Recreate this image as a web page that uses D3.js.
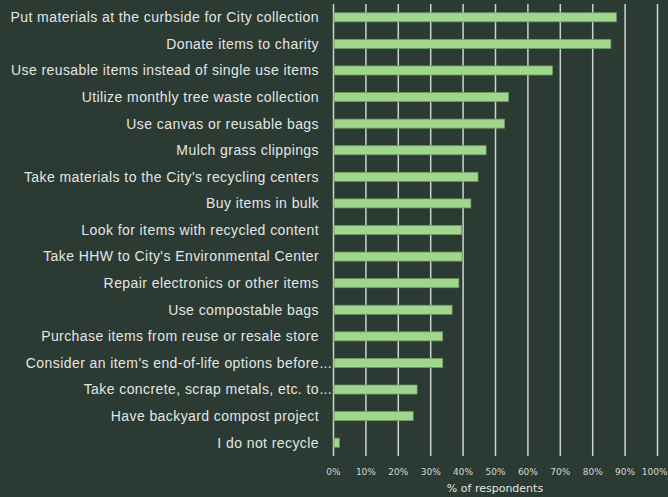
<!DOCTYPE html>
<html>
<head>
<meta charset="utf-8">
<script src="https://cdn.jsdelivr.net/npm/d3@7"></script>
<style>
  html, body { margin: 0; padding: 0; background: #2b3a33; }
  svg { display: block; }
</style>
</head>
<body>
<svg id="chart" width="668" height="497"></svg>
<script>
const categories = [
  "Put materials at the curbside for City collection",
  "Donate items to charity",
  "Use reusable items instead of single use items",
  "Utilize monthly tree waste collection",
  "Use canvas or reusable bags",
  "Mulch grass clippings",
  "Take materials to the City's recycling centers",
  "Buy items in bulk",
  "Look for items with recycled content",
  "Take HHW to City's Environmental Center",
  "Repair electronics or other items",
  "Use compostable bags",
  "Purchase items from reuse or resale store",
  "Consider an item's end-of-life options before...",
  "Take concrete, scrap metals, etc. to...",
  "Have backyard compost project",
  "I do not recycle"
];
const values = [87.3, 85.6, 67.6, 54.0, 52.8, 47.1, 44.6, 42.4, 39.6, 39.7, 38.7, 36.6, 33.7, 33.7, 25.8, 24.6, 1.8];
const tickValues = [0, 10, 20, 30, 40, 50, 60, 70, 80, 90, 100];
const axisTitle = "% of respondents";

const svg = d3.select("#chart");
const x = d3.scaleLinear().domain([0, 100]).range([333.5, 657.5]);
const y = d3.scaleBand().domain(categories).range([4, 456]).paddingInner(0.66).paddingOuter(0.33);

// gridlines
svg.append("g").selectAll("line").data(tickValues).join("line")
  .attr("x1", d => x(d)).attr("x2", d => x(d))
  .attr("y1", 4).attr("y2", 456)
  .attr("stroke", "#cfd2cf").attr("stroke-width", 1.5);

// bars
svg.append("g").selectAll("rect").data(categories).join("rect")
  .attr("x", x(0) + 0.5)
  .attr("y", d => y(d))
  .attr("width", (d, i) => x(values[i]) - x(0) - 0.5)
  .attr("height", y.bandwidth())
  .attr("fill", "#a1d78d")
  .attr("stroke", "#6f9d62")
  .attr("stroke-width", 0.8);

const labelFont = "Liberation Sans, Arial, sans-serif";

// category labels
svg.append("g").selectAll("text").data(categories).join("text")
  .attr("x", 319)
  .attr("y", d => y(d) + y.bandwidth() / 2)
  .attr("dy", "0.35em")
  .attr("text-anchor", "end")
  .attr("fill", "#e4e6e4")
  .attr("font-family", labelFont)
  .attr("font-size", 14)
  .attr("letter-spacing", 0.42)
  .text(d => d.endsWith("...") ? d.slice(0, -3) : d);

svg.append("g").selectAll("text").data(categories.filter(d => d.endsWith("..."))).join("text")
  .attr("x", 319.5)
  .attr("y", d => y(d) + y.bandwidth() / 2)
  .attr("dy", "0.35em")
  .attr("fill", "#e4e6e4")
  .attr("font-family", labelFont)
  .attr("font-size", 14)
  .attr("letter-spacing", 0.2)
  .text("...");

// x tick labels
svg.append("g").selectAll("text").data(tickValues).join("text")
  .attr("x", (d, i) => i === tickValues.length - 1 ? 667.5 : x(d))
  .attr("y", 472)
  .attr("dy", "0.35em")
  .attr("text-anchor", (d, i) => i === tickValues.length - 1 ? "end" : "middle")
  .attr("fill", "#d4d6d4")
  .attr("font-family", "DejaVu Sans, sans-serif")
  .attr("font-size", 9)
  .text(d => d + "%");

svg.append("text")
  .attr("x", 495)
  .attr("y", 488)
  .attr("dy", "0.35em")
  .attr("text-anchor", "middle")
  .attr("fill", "#e4e6e4")
  .attr("font-family", "DejaVu Sans, sans-serif")
  .attr("font-size", 11)
  .text(axisTitle);
</script>
</body>
</html>
